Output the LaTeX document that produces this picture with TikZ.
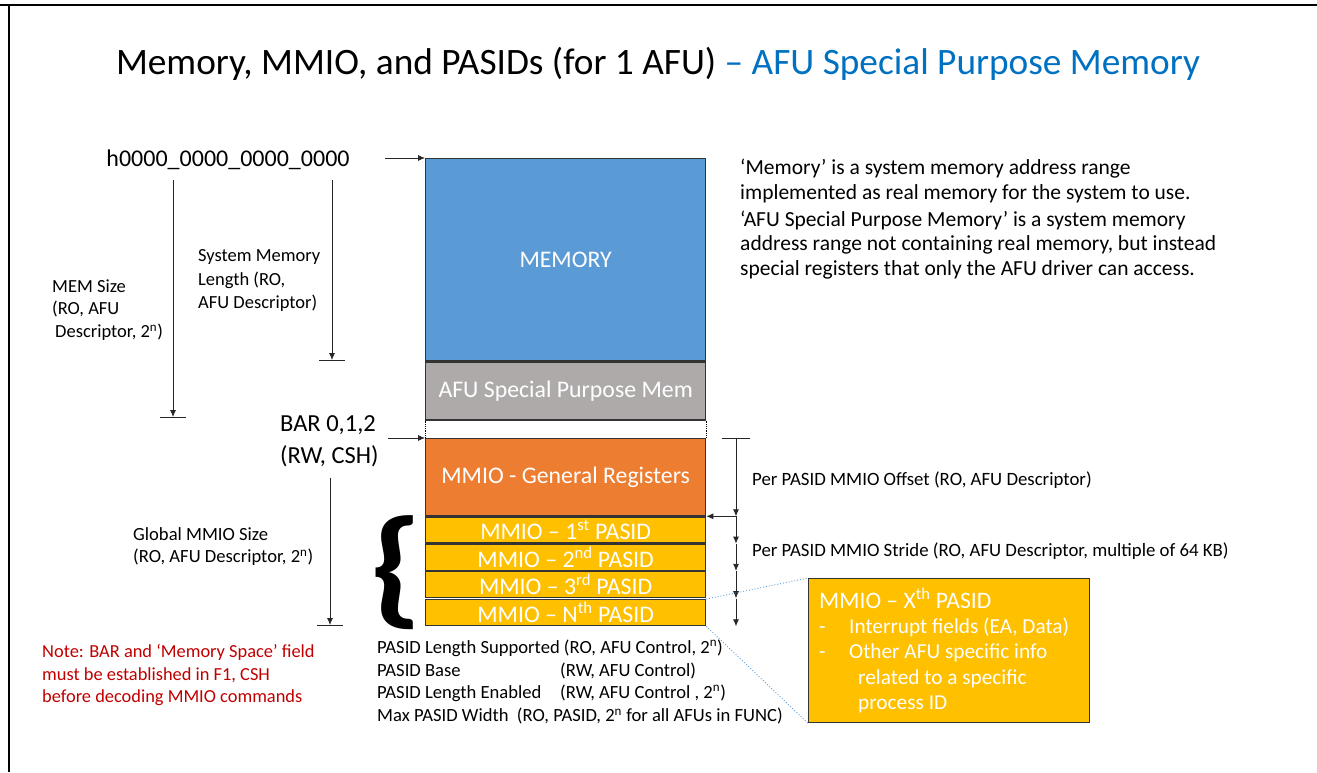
\documentclass[tikz,border=0pt]{standalone}
\usepackage{fontspec}
\setmainfont{Carlito}
\usetikzlibrary{arrows.meta,positioning}

\definecolor{memblue}{HTML}{5B9BD5}
\definecolor{spgray}{HTML}{AEAAAA}
\definecolor{mmioorange}{HTML}{ED7D31}
\definecolor{pasidgold}{HTML}{FFC000}
\definecolor{titleblue}{HTML}{0070C0}
\definecolor{notered}{HTML}{C00000}
\definecolor{edgegray}{HTML}{333333}

\newcommand{\fs}[1]{\fontsize{#1}{1.2\dimexpr#1pt\relax}\selectfont}

\tikzset{
  memblock/.style={draw=edgegray, line width=1.3pt, text=white, minimum width=280pt,
    inner sep=0pt, font=\fs{23.8}},
  lbl/.style={anchor=west, align=left, inner sep=0pt},
  xlbl/.style={lbl, text=white, text height=16pt, text depth=5pt},
  dimarrow/.style={draw=black!85, line width=0.8pt, -{Latex[length=7pt,width=6pt]}},
  tickline/.style={draw=black!85, line width=0.8pt},
  calloutline/.style={draw=memblue, line width=0.9pt, dotted},
}

\begin{document}
\begin{tikzpicture}[x=1pt,y=-1pt]
    \useasboundingbox (0,0) rectangle (1317,772);
    \draw[line width=2.5pt] (0,5) -- (1317,5);
    \draw[line width=2.5pt] (9,5) -- (9,772);

    % Title
    \node[font=\fs{37.3}] (title) at (658,64) {Memory, MMIO, and PASIDs (for 1 AFU) \textcolor{titleblue}{– AFU Special Purpose Memory}};

    % Address map
    \node[memblock, fill=memblue, anchor=north west, minimum height=202pt] (mem) at (425,158) {MEMORY};
    \node[memblock, fill=spgray, anchor=north, minimum height=58pt] (spm) at (mem.south) {AFU Special Purpose Mem};
    \node[memblock, fill=mmioorange, anchor=north west, minimum height=77pt] (gen) at (425,438) {MMIO - General Registers};
    \node[memblock, fill=pasidgold, anchor=north, minimum height=26pt] (p1) at (gen.south) {MMIO – 1\textsuperscript{st} PASID};
    \node[memblock, fill=pasidgold, anchor=north, minimum height=26pt] (p2) at (p1.south) {MMIO – 2\textsuperscript{nd} PASID};
    \node[memblock, fill=pasidgold, anchor=north, minimum height=26pt] (p3) at (p2.south) {MMIO – 3\textsuperscript{rd} PASID};
    \node[memblock, fill=pasidgold, anchor=north west, minimum height=26pt] (pn) at (425,599) {MMIO – N\textsuperscript{th} PASID};
    \draw[densely dotted, line width=0.8pt] (spm.south west) -- (gen.north west);
    \draw[densely dotted, line width=0.8pt] (spm.south east) -- (gen.north east);

    % Left side dimensions
    \node[font=\fs{24}] (origin) at (228,160) {h0000\_0000\_0000\_0000};
    \coordinate (o0) at (385,158);
    \draw[dimarrow] (o0) -- (mem.north west);

    \coordinate (ms0) at (173,180);
    \coordinate (ms1) at (173,417);
    \draw[dimarrow] (ms0) -- (ms1);
    \draw[tickline] ([xshift=-13pt]ms1) -- ([xshift=13pt]ms1);
    \node[lbl, font=\fs{18.5}] (memsize) at (52,286) {MEM Size};
    \node[lbl, font=\fs{18.5}] at (52,309) {(RO, AFU};
    \node[lbl, font=\fs{18.5}] at (55,332) {Descriptor, 2\textsuperscript{n})};

    \coordinate (sl0) at (332,180);
    \coordinate (sl1) at (332,360);
    \draw[dimarrow] (sl0) -- (sl1);
    \draw[tickline] ([xshift=-13pt]sl1) -- ([xshift=13pt]sl1);
    \node[lbl, font=\fs{18.5}] (syslen) at (198,257) {System Memory};
    \node[lbl, font=\fs{18.5}] at (198,280) {Length (RO,};
    \node[lbl, font=\fs{18.5}] at (198,303) {AFU Descriptor)};

    \node[lbl, font=\fs{24.5}] (bar) at (280,425) {BAR 0,1,2};
    \node[lbl, font=\fs{24.5}] at (280,456) {(RW, CSH)};
    \coordinate (b0) at (388,438);
    \draw[dimarrow] (b0) -- (gen.north west);

    \coordinate (gm0) at (330,478);
    \coordinate (gm1) at (330,625);
    \draw[dimarrow] (gm0) -- (gm1);
    \draw[tickline] ([xshift=-13pt]gm1) -- ([xshift=13pt]gm1);
    \node[lbl, font=\fs{18.6}] (gsize) at (133,534) {Global MMIO Size};
    \node[lbl, font=\fs{18.6}] at (133,557) {(RO, AFU Descriptor, 2\textsuperscript{n})};

    \node[font=\fs{130}\bfseries, inner sep=0pt, xscale=1.2] (brace) at (396,573) {\{};

    % Right side dimensions
    \coordinate (off0) at (736,438);
    \draw[tickline] ([xshift=-14pt]off0) -- ([xshift=14pt]off0);
    \draw[dimarrow] (off0) -- (off0 |- p1.north);
    \draw[dimarrow] (off0 |- p1.north) -- (p1.north east);
    \foreach \p in {p1,p2,p3}
        \draw[dimarrow] (off0 |- \p.north) -- (off0 |- \p.south);
    \draw[dimarrow] (off0 |- pn.north) -- (off0 |- pn.south);
    \node[lbl, font=\fs{18.8}] (offset) at (752,480) {Per PASID MMIO Offset (RO, AFU Descriptor)};
    \node[lbl, font=\fs{18.8}] (stride) at (752,551) {Per PASID MMIO Stride (RO, AFU Descriptor, multiple of 64 KB)};

    % Description
    \node[lbl, font=\fs{21.5}] (desc1) at (740,169) {‘Memory’ is a system memory address range};
    \node[lbl, font=\fs{21.5}] at (740,194) {implemented as real memory for the system to use.};
    \node[lbl, font=\fs{21.5}] at (740,220) {‘AFU Special Purpose Memory’ is a system memory};
    \node[lbl, font=\fs{21.5}] at (740,245) {address range not containing real memory, but instead};
    \node[lbl, font=\fs{21.5}] at (740,270) {special registers that only the AFU driver can access.};

    % Callout
    \node[draw=edgegray, line width=1.3pt, fill=pasidgold, anchor=north west,
          minimum width=281pt, minimum height=144pt] (xbox) at (808,578) {};
    \draw[calloutline] (pn.north east) -- (xbox.north west);
    \draw[calloutline] (pn.south east) -- (xbox.south west);
    \node[xlbl, font=\fs{23.6}] (xhead) at (819,603) {MMIO – X\textsuperscript{th} PASID};
    \node[xlbl, font=\fs{21.3}] at (819,628) {-};
    \node[xlbl, font=\fs{21.3}] at (849,628) {Interrupt fields (EA, Data)};
    \node[xlbl, font=\fs{21.3}] at (819,653) {-};
    \node[xlbl, font=\fs{21.3}] at (849,653) {Other AFU specific info};
    \node[xlbl, font=\fs{21.3}] at (858,679) {related to a specific};
    \node[xlbl, font=\fs{21.3}] at (858,704) {process ID};

    % PASID fields
    \node[lbl, font=\fs{18.6}] (fld1) at (377,648) {PASID Length Supported (RO, AFU Control, 2\textsuperscript{n})};
    \node[lbl, font=\fs{18.6}] at (377,671) {\makebox[183pt][l]{PASID Base}(RW, AFU Control)};
    \node[lbl, font=\fs{18.6}] at (377,693) {\makebox[183pt][l]{PASID Length Enabled}(RW, AFU Control , 2\textsuperscript{n})};
    \node[lbl, font=\fs{18.6}] at (377,716) {Max PASID Width~ (RO, PASID, 2\textsuperscript{n} for all AFUs in FUNC)};

    % Note
    \node[lbl, text=notered, font=\fs{18.4}] (note) at (42,652) {Note: BAR and ‘Memory Space’ field};
    \node[lbl, text=notered, font=\fs{18.4}] at (42,675) {must be established in F1, CSH};
    \node[lbl, text=notered, font=\fs{18.4}] at (42,698) {before decoding MMIO commands};
\end{tikzpicture}
\end{document}
